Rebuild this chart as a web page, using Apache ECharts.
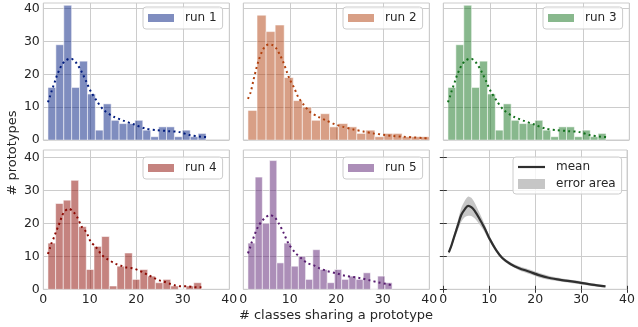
<!DOCTYPE html>
<html><head><meta charset="utf-8">
<script src="https://cdn.jsdelivr.net/npm/echarts@6/dist/echarts.min.js"></script>
<style>html,body{margin:0;padding:0;background:#fff}#c{width:638px;height:327px}</style>
</head><body><div id="c"></div><script>
// ---------- data ----------
const runNames = ['run 1', 'run 2', 'run 3', 'run 4', 'run 5'];
const xTicks = [0, 10, 20, 30, 40];
const yTicks = [0, 10, 20, 30, 40];

// histogram counts (20 bins each) and data range [min, max]
const counts1 = [16, 29, 41, 16, 24, 14, 3, 11, 6, 5, 5, 6, 3, 1, 4, 4, 1, 3, 1, 2];
const counts2 = [9, 38, 33, 35, 19, 12, 10, 6, 8, 4, 5, 4, 2, 3, 1, 2, 2, 1, 1, 1];
const counts3 = [16, 29, 41, 16, 24, 14, 3, 11, 6, 5, 5, 6, 3, 1, 4, 4, 1, 3, 1, 2];
const counts4 = [14, 26, 27, 33, 19, 6, 13, 16, 1, 7, 11, 3, 6, 4, 2, 3, 1, 0, 1, 2];
const counts5 = [14, 34, 20, 39, 8, 14, 7, 10, 3, 12, 6, 2, 6, 3, 4, 3, 5, 0, 4, 2];
const range1 = [1, 35];
const range2 = [1, 40];
const range3 = [1, 35];
const range4 = [1, 34];
const range5 = [1, 32];

// KDE curves (x, scaled density)
const kde1 = [[1,11.5],[1.4,13.1],[1.8,14.9],[2.2,16.6],[2.6,18.2],[3,19.9],[3.5,21.5],[4,22.9],[4.8,24.2],[5.9,24.8],[6.9,23.8],[7.6,22.4],[8.2,20.9],[9.2,17.9],[10.2,14.8],[11.5,11.9],[13,9.1],[15.1,7.1],[17.2,5.9],[19.6,4.7],[21.9,3.5],[24.4,3.0],[26.9,2.7],[29.3,2.4],[31.5,1.5],[34,1.0],[35,0.9]];
const kde2 = [[1,12.5],[1.6,14.6],[2.15,18],[2.7,21.2],[3.3,24.2],[4,26.8],[4.7,28.5],[5.45,29.1],[6.3,28.9],[7.2,27.7],[7.9,25.8],[8.6,23.7],[9.3,21],[10,18.4],[10.9,16],[11.8,13.1],[12.9,10.9],[14.3,8.6],[16.1,7.1],[17.9,5.9],[19.7,4.8],[21.5,4.0],[23.7,3.2],[25.8,2.6],[28,2.0],[30.1,1.6],[32.3,1.2],[34.4,1.0],[36.6,0.8],[38.7,0.6],[39.8,0.5]];
const kde3 = [[1,11.5],[1.4,13.1],[1.8,14.9],[2.2,16.6],[2.6,18.2],[3,19.9],[3.5,21.5],[4,22.9],[4.8,24.2],[5.9,24.8],[6.9,23.8],[7.6,22.4],[8.2,20.9],[9.2,17.9],[10.2,14.8],[11.5,11.9],[13,9.1],[15.1,7.1],[17.2,5.9],[19.6,4.7],[21.9,3.5],[24.4,3.0],[26.9,2.7],[29.3,2.4],[31.5,1.5],[34,1.0],[35,0.9]];
const kde4 = [[1,10.7],[1.4,12.4],[1.8,14.1],[2.3,15.7],[2.7,17.3],[3.15,18.9],[3.6,20.5],[4,22.1],[4.5,23.5],[5.5,24.4],[6.45,23.5],[7.3,21.8],[8.3,18.9],[9.25,17.3],[10.2,14.4],[11.2,13.0],[12.6,10.4],[13.6,9.3],[15.6,7.7],[16.8,7.1],[17.9,6.6],[19.2,6.4],[20.4,5.8],[21.5,5.1],[22.6,4.3],[23.7,3.5],[25,2.7],[26,2.3],[27.2,1.7],[28.3,1.2],[29.7,0.9],[31.2,0.9],[32.1,0.7],[33.3,0.6],[34,0.6]];
const kde5 = [[1,10.9],[1.4,12.4],[1.8,14.2],[2.3,16],[2.7,17.5],[3.2,19],[3.9,20.5],[4.7,21.7],[5.7,22.5],[6.8,21.7],[7.7,19.8],[8.6,17.3],[9.7,13.9],[11.1,11.2],[12.3,9.6],[13.8,7.9],[15.1,7.3],[16.3,6.4],[17.9,5.6],[20.1,4.8],[21.9,4.1],[23.7,3.7],[25.4,3.3],[27.2,2.7],[29,2.1],[30.8,1.6],[31.8,1.3]];

// mean curve with error area
const meanX   = [1.2, 1.8, 2.5, 3.2, 3.9, 4.7, 5.4, 6.1, 6.8, 7.9, 9, 10, 11.5, 12.9, 14.7, 16.5, 18.6, 20.8, 22.9, 25.8, 29.4, 32.3, 35.3];
const meanY   = [11.2, 13.4, 16.5, 19.5, 22.5, 24.3, 25.3, 24.9, 23.8, 21.3, 18.5, 15.5, 11.9, 9.4, 7.6, 6.4, 5.4, 4.3, 3.5, 2.8, 2.1, 1.4, 0.9];
const errLow  = [10.7, 12.7, 15.5, 18.0, 20.4, 21.9, 22.3, 22.2, 21.5, 19.6, 17.3, 14.7, 11.3, 8.9, 7.1, 5.8, 4.7, 3.6, 2.9, 2.3, 1.6, 1.0, 0.6];
const errHigh = [11.7, 14.1, 17.5, 21.0, 24.6, 26.9, 28.1, 27.7, 26.3, 23.1, 19.7, 16.3, 12.5, 9.9, 8.1, 7.0, 6.1, 5.0, 4.1, 3.3, 2.6, 1.8, 1.2];

// ---------- chart ----------
const counts = [counts1, counts2, counts3, counts4, counts5];
const ranges = [range1, range2, range3, range4, range5];
const kdes = [kde1, kde2, kde3, kde4, kde5];
const darkCols = ['#001c7f', '#b1400d', '#12711c', '#8c0800', '#591e71'];
const fillCols = ['rgba(0,28,127,0.5)', 'rgba(177,64,13,0.5)', 'rgba(18,113,28,0.5)', 'rgba(140,8,0,0.5)', 'rgba(89,30,113,0.5)'];
const FONT = 'DejaVu Sans';
const TXT = '#262626';
const GRIDC = '#cccccc';

const colLeft = [43.3, 243.3, 443.3];
const rowTop = [3, 150];
const rowH = [137, 139.3];
const yMax = [41.7, 42.2];
const W = 186;

const grids = [], xAxes = [], yAxes = [], series = [], legends = [];
for (let i = 0; i < 6; i++) {
  const row = Math.floor(i / 3), col = i % 3;
  grids.push({left: colLeft[col], top: rowTop[row], width: W, height: rowH[row],
    show: true, borderColor: GRIDC, borderWidth: 1, backgroundColor: 'transparent', containLabel: false});
  xAxes.push({gridIndex: i, type: 'value', min: xTicks[0], max: xTicks[xTicks.length - 1], interval: 10,
    axisLine: {show: false},
    axisTick: {show: i === 5, length: 3.5, lineStyle: {color: '#333', width: 1}},
    axisLabel: {show: row === 1, margin: 4, fontSize: 12.5, color: TXT, fontFamily: FONT},
    splitLine: {show: true, lineStyle: {color: GRIDC, width: 1}}});
  yAxes.push({gridIndex: i, type: 'value', min: 0, max: yMax[row], interval: 10,
    axisLine: {show: false},
    axisTick: {show: i === 5, length: 3.5, customValues: yTicks, lineStyle: {color: '#333', width: 1}},
    axisLabel: {show: col === 0, margin: 3.5, fontSize: 12.5, color: TXT, fontFamily: FONT, customValues: yTicks},
    splitLine: {show: true, lineStyle: {color: GRIDC, width: 1}}});
}
// extra tick-only axes for the mean panel (top / right)
xAxes.push({gridIndex: 5, type: 'value', position: 'top', min: 0, max: 40, interval: 10,
  axisLine: {show: false}, axisLabel: {show: false}, splitLine: {show: false},
  axisTick: {show: true, length: 3.5, lineStyle: {color: '#333', width: 1}}});
yAxes.push({gridIndex: 5, type: 'value', position: 'right', min: 0, max: yMax[1], interval: 10,
  axisLine: {show: false}, axisLabel: {show: false}, splitLine: {show: false},
  axisTick: {show: true, length: 3.5, customValues: yTicks, lineStyle: {color: '#333', width: 1}}});

const legendBase = {
  orient: 'vertical', itemWidth: 26, itemHeight: 8, itemGap: 5, padding: [5, 6, 5, 5],
  backgroundColor: 'rgba(255,255,255,0.8)', borderColor: GRIDC, borderWidth: 1, borderRadius: 3,
  selectedMode: false,
  textStyle: {fontFamily: FONT, fontSize: 12, color: TXT, padding: [0, 0, 0, 6]}
};
const legendPos = [[143, 7], [343, 7], [543, 7], [143, 157], [343, 157]];

for (let r = 0; r < 5; r++) {
  const c = counts[r], rg = ranges[r];
  const w = (rg[1] - rg[0]) / c.length;
  const data = c.map((v, k) => [rg[0] + k * w, rg[0] + (k + 1) * w, v]);
  series.push({
    type: 'custom', name: runNames[r], xAxisIndex: r, yAxisIndex: r,
    itemStyle: {color: fillCols[r]}, encode: {x: [0, 1], y: 2}, z: 2,
    renderItem: function (params, api) {
      const p0 = api.coord([api.value(0), api.value(2)]);
      const p1 = api.coord([api.value(1), 0]);
      return {type: 'rect', shape: {x: p0[0], y: p0[1], width: p1[0] - p0[0], height: p1[1] - p0[1]},
        style: {fill: api.visual('color'), stroke: 'rgba(255,255,255,0.55)', lineWidth: 1}};
    },
    data: data
  });
  series.push({
    type: 'line', name: 'kde ' + (r + 1), xAxisIndex: r, yAxisIndex: r, z: 3,
    data: kdes[r], symbol: 'none', smooth: 0.3,
    lineStyle: {color: darkCols[r], width: 2, type: [2, 3.2], cap: 'butt'}
  });
  legends.push(Object.assign({}, legendBase, {left: legendPos[r][0], top: legendPos[r][1],
    data: [{name: runNames[r], icon: 'rect'}]}));
}

// mean panel
series.push({
  type: 'custom', name: 'error area', xAxisIndex: 5, yAxisIndex: 5, z: 2,
  itemStyle: {color: '#c6c6c6'}, encode: {x: 0, y: [1, 2]},
  renderItem: function (params, api) {
    if (params.dataIndexInside !== 0) return null;
    const n = params.dataInsideLength;
    const top = [], bot = [];
    for (let k = 0; k < n; k++) {
      top.push(api.coord([api.value(0, k), api.value(2, k)]));
      bot.push(api.coord([api.value(0, k), api.value(1, k)]));
    }
    return {type: 'polygon', shape: {points: top.concat(bot.reverse()), smooth: 0.25},
      style: {fill: api.visual('color')}};
  },
  data: meanX.map((x, k) => [x, errLow[k], errHigh[k]])
});
series.push({
  type: 'line', name: 'mean', xAxisIndex: 5, yAxisIndex: 5, z: 3,
  data: meanX.map((x, k) => [x, meanY[k]]), symbol: 'none', smooth: 0.3,
  itemStyle: {color: '#2f2f2f'},
  lineStyle: {color: '#2f2f2f', width: 2.2}
});
legends.push(Object.assign({}, legendBase, {left: 513, top: 157, itemWidth: 27, itemHeight: 10,
  itemGap: 5, padding: [4, 6, 4, 5],
  data: [{name: 'mean', icon: 'path://M0,0H27V2.2H0Z'}, {name: 'error area', icon: 'rect'}]}));

const chart = echarts.init(document.getElementById('c'), null, {renderer: 'canvas'});
chart.setOption({
  animation: false,
  textStyle: {fontFamily: FONT},
  grid: grids, xAxis: xAxes, yAxis: yAxes, series: series, legend: legends,
  graphic: [
    {type: 'text', x: 12.5, y: 153, rotation: Math.PI / 2,
      style: {text: '# prototypes', font: '13px "DejaVu Sans"', fill: TXT, align: 'center', verticalAlign: 'middle'}},
    {type: 'text', x: 336, y: 315.5,
      style: {text: '# classes sharing a prototype', font: '13px "DejaVu Sans"', fill: TXT, align: 'center', verticalAlign: 'middle'}}
  ]
});
</script></body></html>
